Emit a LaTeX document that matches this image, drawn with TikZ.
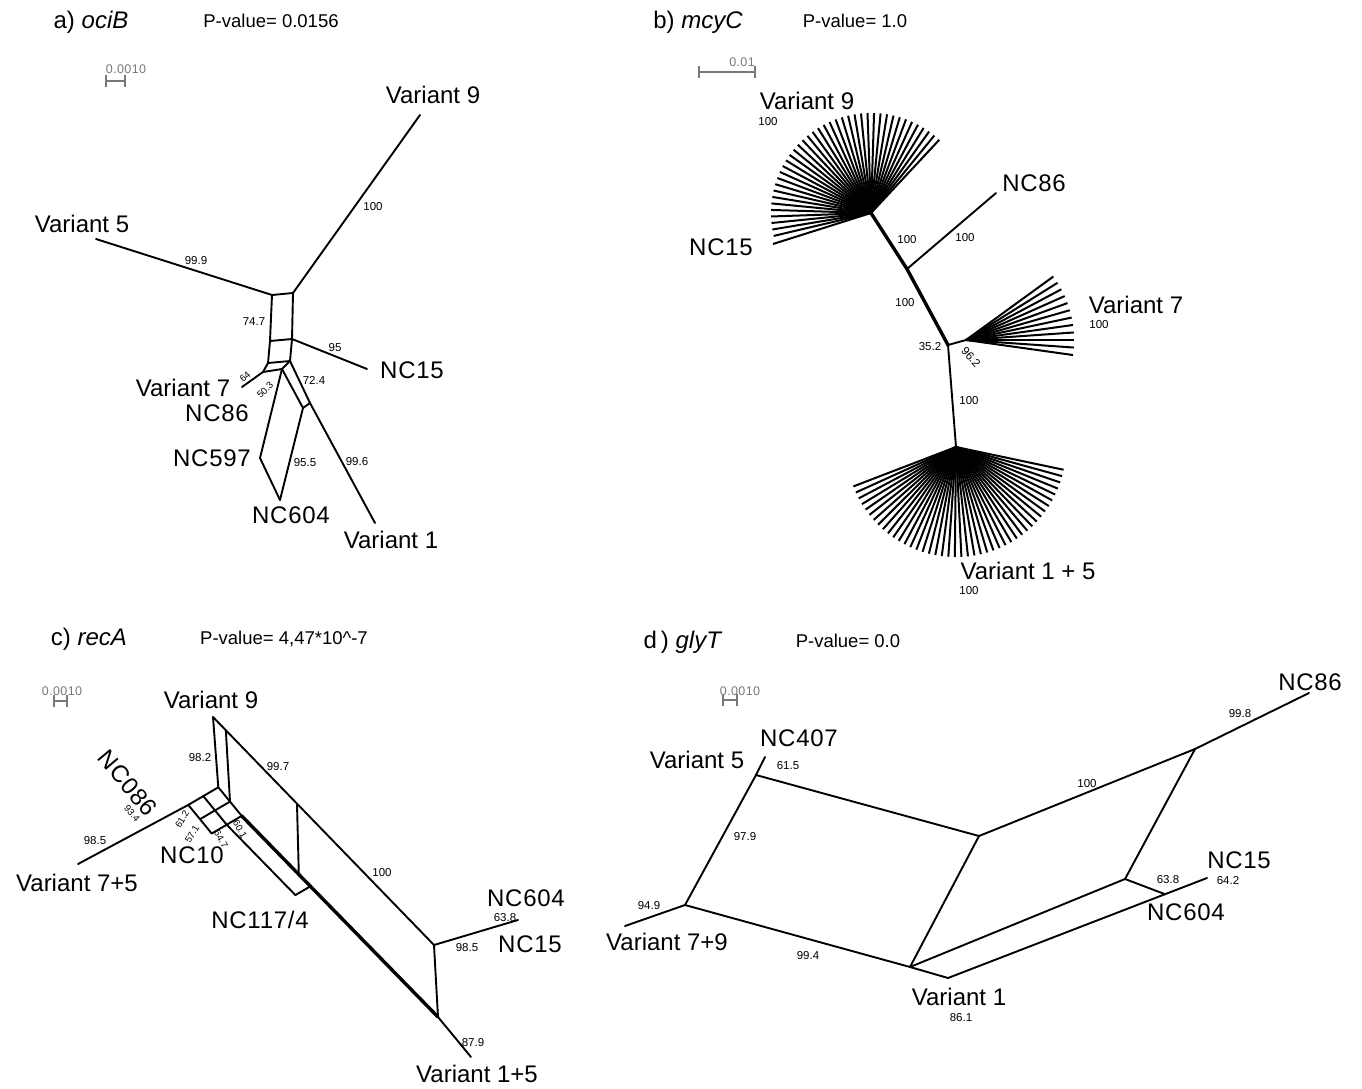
\documentclass[tikz,border=0pt]{standalone}
\usepackage{fontspec}
\setmainfont{Liberation Sans}
\usetikzlibrary{calc}
\definecolor{sgray}{RGB}{120,120,120}
\begin{document}
\begin{tikzpicture}[x=1pt,y=-1pt,
 edge/.style={line width=1.9pt, line cap=round, line join=round},
 fanline/.style={line width=2pt},
 heavy/.style={line width=3.4pt, line cap=round, line join=round},
 lab/.style={inner sep=0pt, text depth=0pt, anchor=center},
 leaf/.style={lab, font=\fontsize{24}{28}\selectfont},
 ncleaf/.style={lab, font=\fontsize{24}{28}\selectfont\addfontfeature{LetterSpace=3}},
 sup/.style={lab, font=\fontsize{11.5}{13}\selectfont},
 tiny/.style={lab, font=\fontsize{9.5}{11}\selectfont},
 ttl/.style={lab, font=\fontsize{24}{28}\selectfont},
 pv/.style={lab, font=\fontsize{18.5}{22}\selectfont},
 sbar/.style={draw=sgray, line width=1.8pt},
 stxt/.style={lab, text=sgray, font=\fontsize{12.5}{14}\selectfont\addfontfeature{LetterSpace=3}},
]
\useasboundingbox (0,0) rectangle (1362,1089);

% ================= panel a =================
\node[ttl] (ta) at (91,20) {a) \textit{ociB}};
\node[pv] (pa) at (271,21) {P-value= 0.0156};
\coordinate (sa1) at (105,81); \coordinate (sa2) at (126,81);
\draw[sbar,|-|] (sa1) -- (sa2);
\node[stxt] (sta) at (126,69) {0.0010};

\coordinate (aV5) at (96,239);
\coordinate (aV9) at (420,115);
\coordinate (aA1) at (272,295);
\coordinate (aA2) at (293,293);
\coordinate (aB1) at (270,341);
\coordinate (aB2) at (292,339);
\coordinate (aC1) at (268,363);
\coordinate (aC2) at (290,361);
\coordinate (aD1) at (263,372);
\coordinate (aD2) at (282,369);
\coordinate (aNC15) at (367,369);
\coordinate (aV7) at (242,387);
\coordinate (aE1) at (303,408);
\coordinate (aE2) at (310,403);
\coordinate (aV1) at (375,523);
\coordinate (aP597) at (260,458);
\coordinate (aP604) at (280,500);

\draw[edge] (aV5) -- (aA1);
\draw[edge] (aV9) -- (aA2);
\draw[edge] (aA1) -- (aA2);
\draw[edge] (aA1) -- (aB1);
\draw[edge] (aA2) -- (aB2);
\draw[edge] (aB1) -- (aB2);
\draw[edge] (aB2) -- (aNC15);
\draw[edge] (aB1) -- (aC1);
\draw[edge] (aB2) -- (aC2);
\draw[edge] (aC1) -- (aC2);
\draw[edge] (aC1) -- (aD1);
\draw[edge] (aD1) -- (aD2);
\draw[edge] (aD2) -- (aC2);
\draw[edge] (aD1) -- (aV7);
\draw[edge] (aD2) -- (aP597);
\draw[edge] (aD2) -- (aE1);
\draw[edge] (aC2) -- (aE2);
\draw[edge] (aE2) -- (aV1);
\draw[edge] (aE1) -- (aE2);
\draw[edge] (aE1) -- (aP604);
\draw[edge] (aP597) -- (aP604);

\node[leaf] (laV9) at (433,95) {Variant 9};
\node[leaf] (laV5) at (82,224) {Variant 5};
\node[ncleaf] (laNC15) at (412,370) {NC15};
\node[leaf] (laV7) at (183,388) {Variant 7};
\node[ncleaf] (laNC86) at (217,413) {NC86};
\node[ncleaf] (laNC597) at (212,458) {NC597};
\node[ncleaf] (laNC604) at (291,515) {NC604};
\node[leaf] (laV1) at (391,540) {Variant 1};

\node[sup] at (373,206) {100};
\node[sup] at (196,260) {99.9};
\node[sup] at (254,322) {74.7};
\node[sup] at (335,347) {95};
\node[tiny, rotate=40] at (245,377) {64};
\node[tiny, rotate=45] at (265,390) {50.3};
\node[sup] at (314,380) {72.4};
\node[sup] at (305,462) {95.5};
\node[sup] at (357,461) {99.6};

% ================= panel b =================
\node[ttl] (tb) at (698,20) {b) \textit{mcyC}};
\node[pv] (pb) at (855,21) {P-value= 1.0};
\coordinate (sb1) at (698,72); \coordinate (sb2) at (756,72);
\draw[sbar,|-|] (sb1) -- (sb2);
\node[stxt] (stb) at (742,62) {0.01};

\coordinate (b1) at (871,213);
\coordinate (b2) at (907,269);
\coordinate (b3) at (948,345);
\coordinate (b4) at (966,340);
\coordinate (b5) at (956,447);
\coordinate (bNC86) at (996,193);
\coordinate (bNC15) at (773,244);

\foreach \k in {0,...,39} {\draw[fanline] (b1) -- ++({-(47+\k*3.75)}:100);}
\draw[fanline] (b1) -- (bNC15);
\foreach \k in {0,...,11} {\draw[fanline] (b4) -- ++({-(36-\k*4)}:108);}
\foreach \k in {0,...,43} {\draw[fanline] (b5) -- ++({-(201+\k*3.42)}:110);}

\draw[heavy] (b1) -- (b2) -- (b3);
\draw[edge] (b2) -- (bNC86);
\draw[edge] (b3) -- (b4);
\draw[edge] (b3) -- (b5);

\node[leaf] (lbV9) at (807,101) {Variant 9};
\node[sup] at (768,121) {100};
\node[ncleaf] (lbNC86) at (1034,183) {NC86};
\node[ncleaf] (lbNC15) at (721,247) {NC15};
\node[sup] at (907,239) {100};
\node[sup] at (965,237) {100};
\node[sup] at (905,302) {100};
\node[sup] at (930,346) {35.2};
\node[sup, rotate=-48] at (971,357) {96.2};
\node[leaf] (lbV7) at (1136,305) {Variant 7};
\node[sup] at (1099,324) {100};
\node[sup] at (969,400) {100};
\node[leaf] (lbV15) at (1028,571) {Variant 1 + 5};
\node[sup] at (969,590) {100};

% ================= panel c =================
\node[ttl] (tc) at (89,637) {c) \textit{recA}};
\node[pv] (pc) at (284,638) {P-value= 4,47*10\^{}-7};
\coordinate (sc1) at (53,701); \coordinate (sc2) at (68,701);
\draw[sbar,|-|] (sc1) -- (sc2);
\node[stxt] (stc) at (62,691) {0.0010};

\coordinate (c9) at (213,717);
\coordinate (cx) at (434,945);
\coordinate (cbot) at (438,1017);
\coordinate (cV15) at (471,1057);
\coordinate (cNC) at (518,920);
\coordinate (cV75) at (78,864);
\foreach \i in {0,1,2} {\foreach \j in {0,1,2} {
  \coordinate (g\i\j) at ({218.3-15*\i+11.7*\j},{787.3+8.8*\i+14.3*\j});
}}
\coordinate (ct2) at ($(c9)!0.058!(cx)$);
\coordinate (ct3) at ($(c9)!0.38!(cx)$);
\coordinate (cb3) at ($(g02)!0.291!(cbot)$);
\coordinate (cs) at ($(g02)!0.35!(cbot)$);
\coordinate (c117) at ($(cs)+(-15,8.8)$);

\draw[edge] (c9) -- (cx);
\draw[edge] (c9) -- (g00);
\draw[edge] (ct2) -- (g01);
\draw[edge] (ct3) -- (cb3);
\draw[edge] (cx) -- (cbot);
\draw[edge] (cx) -- (cNC);
\draw[heavy] (g02) -- (cbot);
\draw[edge] (cbot) -- (cV15);
\draw[edge] (g20) -- (cV75);
\draw[edge] (g12) -- (c117) -- (cs);
\foreach \i in {0,1,2} {\draw[edge] (g\i0) -- (g\i1) -- (g\i2);}
\foreach \j in {0,1,2} {\draw[edge] (g0\j) -- (g1\j) -- (g2\j);}

\node[leaf] (lcV9) at (211,700) {Variant 9};
\node[sup] at (200,757) {98.2};
\node[sup] at (278,766) {99.7};
\node[ncleaf, rotate=-50] (lcNC086) at (128,783) {NC086};
\node[tiny, rotate=-50] at (132,813) {93.4};
\node[sup] at (95,840) {98.5};
\node[leaf] (lcV75) at (77,883) {Variant 7+5};
\node[tiny, rotate=60] at (182,819) {61.2};
\node[tiny, rotate=60] at (192,834) {57.1};
\node[tiny, rotate=-60] at (221,839) {64.7};
\node[tiny, rotate=-60] at (240,829) {60.1};
\node[ncleaf] (lcNC10) at (192,855) {NC10};
\node[ncleaf] (lcNC117) at (260,920) {NC117/4};
\node[sup] at (382,872) {100};
\node[ncleaf] (lcNC604) at (526,898) {NC604};
\node[sup] at (505,917) {63.8};
\node[sup] at (467,947) {98.5};
\node[ncleaf] (lcNC15) at (530,944) {NC15};
\node[sup] at (473,1042) {87.9};
\node[leaf] (lcV15) at (477,1074) {Variant 1+5};

% ================= panel d =================
\node[ttl] (td) at (683,640) {d\,) \textit{glyT}};
\node[pv] (pd) at (848,641) {P-value= 0.0};
\coordinate (sd1) at (722,700); \coordinate (sd2) at (738,700);
\draw[sbar,|-|] (sd1) -- (sd2);
\node[stxt] (std) at (740,691) {0.0010};

\coordinate (dNC407) at (765,757);
\coordinate (dV5) at (756,775);
\coordinate (dV79) at (685,905);
\coordinate (dV79e) at (625,926);
\coordinate (dR) at (979,836);
\coordinate (dM) at (910,967);
\coordinate (dV1) at (948,978);
\coordinate (dQ) at (1125,879);
\coordinate (dT) at (1195,749);
\coordinate (dNC86) at (1309,693);
\coordinate (dNC15) at (1207,878);
\coordinate (dJ) at ($(dV1)!0.838!(dNC15)$);

\draw[edge] (dNC407) -- (dV5);
\draw[edge] (dV5) -- (dV79);
\draw[edge] (dV79) -- (dV79e);
\draw[edge] (dV5) -- (dR);
\draw[edge] (dV79) -- (dM);
\draw[edge] (dM) -- (dR);
\draw[edge] (dM) -- (dV1);
\draw[edge] (dM) -- (dQ);
\draw[edge] (dR) -- (dT);
\draw[edge] (dT) -- (dNC86);
\draw[edge] (dT) -- (dQ);
\draw[edge] (dQ) -- (dJ);
\draw[edge] (dV1) -- (dNC15);

\node[ncleaf] (ldNC407) at (799,738) {NC407};
\node[leaf] (ldV5) at (697,760) {Variant 5};
\node[sup] at (788,765) {61.5};
\node[sup] at (745,836) {97.9};
\node[sup] at (649,905) {94.9};
\node[leaf] (ldV79) at (667,942) {Variant 7+9};
\node[sup] at (808,955) {99.4};
\node[leaf] (ldV1) at (959,997) {Variant 1};
\node[sup] at (961,1017) {86.1};
\node[sup] at (1087,783) {100};
\node[sup] at (1240,713) {99.8};
\node[ncleaf] (ldNC86) at (1310,682) {NC86};
\node[ncleaf] (ldNC15) at (1239,860) {NC15};
\node[sup] at (1168,879) {63.8};
\node[sup] at (1228,880) {64.2};
\node[ncleaf] (ldNC604) at (1186,912) {NC604};
\end{tikzpicture}
\end{document}
